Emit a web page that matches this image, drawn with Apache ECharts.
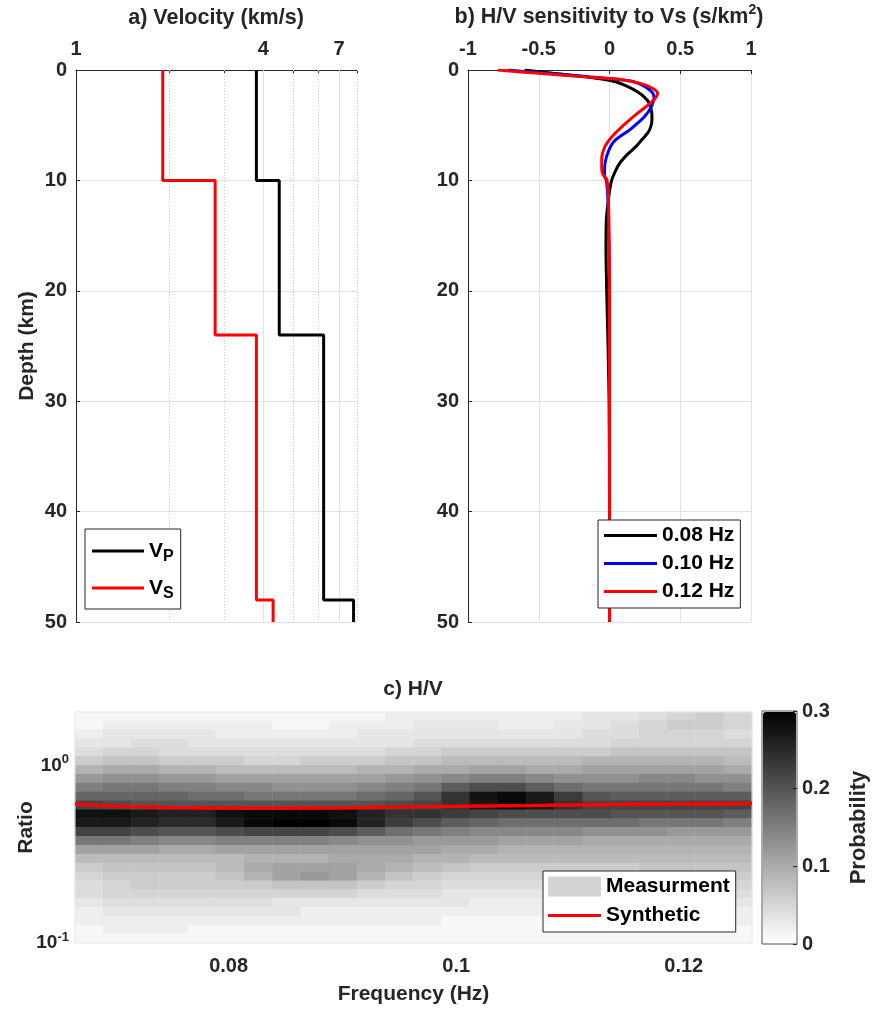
<!DOCTYPE html>
<html><head><meta charset="utf-8">
<script src="https://cdn.jsdelivr.net/npm/echarts@6/dist/echarts.min.js"></script>
<style>html,body{margin:0;padding:0;background:#fff}#c{width:873px;height:1010px}</style>
</head><body><div id="c"></div>
<script>
// ---------- a) velocity model ----------
const layerTop    = [0, 10, 24, 48];
const layerBottom = [10, 24, 48, 50];
const vp = [3.8, 4.5, 6.25, 7.8];
const vs = [1.9, 2.8, 3.8, 4.3];
const velTickLabels = [1, 4, 7];
const velTicks = [2, 3, 4, 5, 6, 7, 8];
const velMajorGrid = [4, 7];
const velMinorGrid = [2, 3, 5, 6, 8];

// ---------- b) H/V sensitivity ----------
const sensDepth008 = [0, 0.3, 0.6, 1.0, 1.5, 2.0, 2.5, 3.0, 3.8, 4.5, 5.2, 5.7, 6.3, 6.9, 7.6, 8.4, 9.2, 10, 11, 12, 13.5, 16, 20, 24, 30, 40, 50];
const sens008      = [-0.6, -0.4, -0.18, 0.02, 0.13, 0.2, 0.25, 0.28, 0.298, 0.3, 0.29, 0.27, 0.23, 0.19, 0.13, 0.075, 0.04, 0.015, 0.0, -0.01, -0.022, -0.025, -0.02, -0.012, -0.003, 0, 0];
const sensDepth010 = [0, 0.3, 0.6, 1.0, 1.5, 2.0, 2.5, 3.2, 4.2, 5.4, 6.5, 7.8, 9.0, 9.6, 10, 12, 15, 20, 30, 40, 50];
const sens010      = [-0.72, -0.45, -0.15, 0.15, 0.25, 0.30, 0.315, 0.30, 0.25, 0.145, 0.03, -0.02, -0.035, -0.035, -0.022, -0.01, -0.005, 0, 0, 0, 0];
const sensDepth012 = [0, 0.3, 0.6, 0.9, 1.3, 1.7, 2.1, 2.6, 3.2, 4.0, 5.0, 6.0, 7.0, 8.0, 9.0, 9.5, 9.9, 11, 13, 20, 30, 40, 50];
const sens012      = [-0.79, -0.5, -0.2, 0.1, 0.24, 0.31, 0.34, 0.32, 0.27, 0.19, 0.10, 0.02, -0.035, -0.055, -0.055, -0.045, -0.02, -0.01, -0.005, 0, 0, 0, 0];

// ---------- c) H/V probability ----------
const hvFreq = [0.0677, 0.0702, 0.0727, 0.0752, 0.0777, 0.0801, 0.0826, 0.0851, 0.0876, 0.0901, 0.0925, 0.0950,
                0.0975, 0.1000, 0.1025, 0.1049, 0.1074, 0.1099, 0.1124, 0.1149, 0.1173, 0.1198, 0.1223, 0.1248];
// rows from top (high ratio) to bottom (low ratio)
const hvRatio = [1.884, 1.679, 1.496, 1.334, 1.189, 1.059, 0.944, 0.841, 0.750, 0.668, 0.596, 0.531, 0.473,
                 0.422, 0.376, 0.335, 0.299, 0.266, 0.237, 0.211, 0.188, 0.168, 0.150, 0.133, 0.119, 0.106];
// probability in percent, one row per ratio, one column per frequency
const hvProbPct = [
  [1,1,1,1,1,1,1,1,1,1,1,2,2,2,2,2,2,2,3,3,4,5,6,5],
  [1,2,2,2,2,2,2,1,1,2,2,2,3,3,3,2,2,3,3,4,5,6,6,5],
  [2,3,3,3,3,2,2,2,2,2,3,3,3,3,3,3,3,3,4,4,5,5,5,4],
  [3,3,4,4,3,3,3,3,3,3,3,3,4,4,4,4,4,4,4,5,5,5,5,5],
  [4,5,5,4,4,4,4,4,4,4,4,5,5,6,6,6,6,6,6,7,7,7,7,7],
  [6,7,7,6,6,6,5,5,6,6,6,7,7,8,8,8,8,8,9,9,9,9,9,8],
  [9,10,10,9,9,8,8,8,8,8,9,9,10,10,11,11,10,10,11,11,11,11,11,10],
  [12,13,13,12,12,11,11,11,11,11,11,12,13,14,15,15,14,13,13,13,14,14,13,13],
  [15,16,16,15,15,14,14,13,13,13,14,15,16,19,21,21,19,17,16,16,16,16,16,15],
  [18,18,18,18,17,17,16,16,16,16,17,18,20,24,28,29,27,23,20,19,19,19,19,19],
  [22,21,20,20,20,20,20,20,20,20,20,21,22,24,27,29,27,24,22,22,22,22,22,22],
  [28,28,27,26,26,28,29,29,29,28,26,24,24,23,22,21,21,21,21,20,20,20,20,19],
  [27,27,26,25,25,27,29,30,30,29,26,23,21,19,18,17,17,17,17,17,16,16,16,15],
  [22,22,21,20,20,21,22,22,22,21,19,17,16,15,14,14,14,14,13,13,13,12,12,12],
  [16,16,15,14,14,15,15,15,15,14,13,13,12,12,12,11,11,11,10,10,10,10,10,10],
  [11,11,11,10,10,11,11,11,11,11,11,11,11,10,10,9,9,9,9,9,9,9,9,9],
  [8,8,8,8,8,8,9,9,9,10,10,10,9,9,8,8,8,8,8,8,8,8,8,8],
  [6,7,7,7,7,8,10,11,11,11,10,9,8,7,6,6,6,6,6,6,7,7,7,7],
  [5,6,6,6,6,7,9,11,12,11,9,7,6,5,5,5,5,5,5,5,5,5,6,6],
  [4,5,6,6,6,6,6,7,7,7,6,5,5,4,4,4,4,4,4,4,4,4,5,5],
  [4,5,5,5,5,5,5,5,5,5,4,4,4,3,3,3,3,3,3,3,3,4,4,4],
  [3,4,4,4,4,4,4,3,3,3,3,3,3,3,2,2,2,2,2,3,3,3,3,3],
  [2,3,3,3,3,3,3,3,2,2,2,2,2,2,2,2,2,2,2,2,2,2,2,2],
  [2,2,2,2,2,2,2,2,2,2,2,2,2,1,1,1,1,1,1,1,1,1,2,2],
  [1,2,2,2,1,1,1,1,1,1,1,1,1,1,1,1,1,1,1,1,1,1,1,1],
  [1,1,1,1,1,1,1,1,1,1,1,1,1,1,1,1,1,1,1,1,1,1,1,1]
];
const synFreq  = [0.0665, 0.07, 0.075, 0.08, 0.085, 0.09, 0.095, 0.1, 0.105, 0.11, 0.115, 0.12, 0.126];
const synRatio = [0.605, 0.588, 0.578, 0.573, 0.574, 0.577, 0.582, 0.588, 0.593, 0.597, 0.601, 0.605, 0.61];
const freqTickLabels = [0.08, 0.1, 0.12];
const ratioTickLabels = [0.1, 1];

// ---------- build ----------
const FONT = "'Liberation Sans', Arial, Helvetica, sans-serif";
const AX = '#262626';
const GRIDC = '#e2e2e2';

function stepLine(v) {
  const pts = [];
  for (let i = 0; i < v.length; i++) { pts.push([v[i], layerTop[i]]); pts.push([v[i], layerBottom[i]]); }
  return pts;
}
function zipXY(x, d) { return x.map((v, i) => [v, d[i]]); }
const heatData = [];
hvProbPct.forEach((row, i) => row.forEach((p, j) => heatData.push([j, i, p / 100])));

const tickLabel = {fontSize: 20, fontWeight: 'bold', color: AX, fontFamily: FONT};
const nameStyle = {fontSize: 21, fontWeight: 'bold', color: AX, fontFamily: FONT};
const axLine = {show: true, onZero: false, lineStyle: {color: AX, width: 1}};
const noLine = {show: false, onZero: false};
const inTick = {show: true, inside: true, length: 4, lineStyle: {color: AX}};
const lineBase = {type: 'line', symbol: 'none', smooth: false, emphasis: {disabled: true}, z: 3};

const chart = echarts.init(document.getElementById('c'));
chart.setOption({
  animation: false,
  textStyle: {fontFamily: FONT},
  grid: [
    {left: 76, top: 70, width: 281, height: 552},
    {left: 468, top: 70, width: 283, height: 552},
    {left: 75, top: 712, width: 677, height: 231},
    {left: 75, top: 712, width: 677, height: 231, show: true, z: 3, borderColor: '#e6e6e6', backgroundColor: 'transparent'},
    {left: 762, top: 711, width: 35, height: 233, show: true, borderColor: '#555', borderWidth: 1, backgroundColor: 'transparent'}
  ],
  xAxis: [
    {gridIndex: 0, type: 'log', logBase: 10, min: 1, max: 8, position: 'top',
     axisLine: axLine, axisTick: Object.assign({customValues: velTicks}, inTick),
     axisLabel: Object.assign({customValues: velTickLabels, margin: 11}, tickLabel),
     splitLine: {show: false}, minorTick: {show: false}},
    {gridIndex: 1, type: 'value', min: -1, max: 1, interval: 0.5, position: 'top',
     axisLine: axLine, axisTick: inTick, axisLabel: Object.assign({margin: 11}, tickLabel),
     splitLine: {show: true, lineStyle: {color: GRIDC}}},
    {gridIndex: 2, type: 'category', data: hvFreq, show: false},
    {gridIndex: 3, type: 'value', min: 0.0665, max: 0.126,
     axisLine: noLine, axisTick: {show: false}, splitLine: {show: false},
     axisLabel: Object.assign({customValues: freqTickLabels, margin: 13}, tickLabel),
     name: 'Frequency (Hz)', nameLocation: 'middle', nameGap: 41, nameMoveOverlap: false, nameTextStyle: nameStyle},
    {gridIndex: 4, type: 'value', show: false, min: 0, max: 1, axisLine: noLine}
  ],
  yAxis: [
    {gridIndex: 0, type: 'value', inverse: true, min: 0, max: 50, interval: 10,
     axisLine: axLine, axisTick: inTick, axisLabel: Object.assign({margin: 9}, tickLabel),
     splitLine: {show: true, lineStyle: {color: GRIDC}},
     name: 'Depth (km)', nameLocation: 'middle', nameGap: 38, nameRotate: 90, nameMoveOverlap: false, nameTextStyle: nameStyle},
    {gridIndex: 1, type: 'value', inverse: true, min: 0, max: 50, interval: 10,
     axisLine: axLine, axisTick: inTick, axisLabel: Object.assign({margin: 9}, tickLabel),
     splitLine: {show: true, lineStyle: {color: GRIDC}}},
    {gridIndex: 2, type: 'category', data: hvRatio, inverse: true, show: false},
    {gridIndex: 3, type: 'log', logBase: 10, min: 0.1, max: 1.995,
     axisLine: noLine, axisTick: {show: false}, splitLine: {show: false}, minorTick: {show: false},
     axisLabel: {customValues: ratioTickLabels, margin: 6, color: AX,
       formatter: v => Math.abs(v - 1) < 1e-6 ? '{b|10}{s|0}' : '{b|10}{s|-1}',
       rich: {b: {fontSize: 19, fontWeight: 'bold', color: AX, lineHeight: 19},
              s: {fontSize: 13, fontWeight: 'bold', color: AX, lineHeight: 13, padding: [0, 0, 12, 0]}}},
     name: 'Ratio', nameLocation: 'middle', nameGap: 38, nameRotate: 90, nameMoveOverlap: false, nameTextStyle: nameStyle},
    {gridIndex: 4, type: 'value', min: 0, max: 0.3, interval: 0.1, position: 'right', zlevel: 1, z: 10,
     axisLine: noLine, axisTick: {show: true, inside: true, length: 4, lineStyle: {color: AX}},
     splitLine: {show: false},
     axisLabel: Object.assign({margin: 5}, tickLabel),
     name: 'Probability', nameLocation: 'middle', nameGap: 51, nameRotate: 90, nameMoveOverlap: false,
     nameTextStyle: Object.assign({}, nameStyle, {fontSize: 22})}
  ],
  visualMap: {
    type: 'continuous', min: 0, max: 0.3, seriesIndex: 5, dimension: 2, z: 2,
    inRange: {color: ['#ffffff', '#000000']},
    left: 763, top: 712, itemWidth: 33, itemHeight: 231, padding: 0,
    calculable: false, hoverLink: false, text: null, showLabel: false
  },
  legend: [
    {left: 85, top: 529, orient: 'vertical', selectedMode: false,
     padding: [8, 7, 7, 7], itemGap: 9, itemWidth: 52, itemHeight: 3,
     borderColor: AX, borderWidth: 1, backgroundColor: '#fff',
     data: [{name: 'VP', icon: 'rect'}, {name: 'VS', icon: 'rect'}],
     formatter: n => n === 'VP' ? '{v|V}{s|P}' : '{v|V}{s|S}',
     textStyle: {rich: {v: {fontSize: 21, fontWeight: 'bold', color: '#000', lineHeight: 20},
                        s: {fontSize: 16, fontWeight: 'bold', color: '#000', lineHeight: 15, padding: [12, 0, 0, 0]}}}},
    {left: 598, top: 520, orient: 'vertical', selectedMode: false,
     padding: [5, 6, 6, 6], itemGap: 7, itemWidth: 53, itemHeight: 3,
     borderColor: AX, borderWidth: 1, backgroundColor: '#fff',
     data: [{name: '0.08 Hz', icon: 'rect'}, {name: '0.10 Hz', icon: 'rect'}, {name: '0.12 Hz', icon: 'rect'}],
     textStyle: {fontSize: 21, fontWeight: 'bold', color: '#000', lineHeight: 21}},
    {left: 543, top: 871, orient: 'vertical', selectedMode: false,
     padding: [5, 6, 6, 5], itemGap: 8, itemWidth: 53, itemHeight: 20,
     borderColor: AX, borderWidth: 1, backgroundColor: '#fff',
     itemStyle: {borderWidth: 0},
     data: [{name: 'Measurment', icon: 'rect', itemStyle: {color: '#d4d4d4'}},
            {name: 'Synthetic', icon: 'path://M0,0L0.01,0L0.01,0.01Z M0,8.5L53,8.5L53,11.5L0,11.5Z M53,20L52.99,20L52.99,19.99Z'}],
     textStyle: {fontSize: 21, fontWeight: 'bold', color: '#000', lineHeight: 21}}
  ],
  graphic: [
    {type: 'text', x: 216, y: 18, style: {text: 'a) Velocity (km/s)', fontSize: 21.5, fontWeight: 'bold', fontFamily: FONT, fill: AX, align: 'center', verticalAlign: 'middle'}},
    {type: 'text', x: 609, y: 17, style: {text: '{t|b) H/V sensitivity to Vs (s/km}{s|2}{t|)}', fontFamily: FONT, fill: AX, align: 'center', verticalAlign: 'middle',
      rich: {t: {fontSize: 21.5, fontWeight: 'bold', fill: AX, lineHeight: 21}, s: {fontSize: 14, fontWeight: 'bold', fill: AX, lineHeight: 14, padding: [0, 0, 13, 0]}}}},
    {type: 'text', x: 413, y: 689, style: {text: 'c) H/V', fontSize: 21, fontWeight: 'bold', fontFamily: FONT, fill: AX, align: 'center', verticalAlign: 'middle'}}
  ],
  series: [
    Object.assign({}, lineBase, {name: 'VP', xAxisIndex: 0, yAxisIndex: 0, data: stepLine(vp),
      lineStyle: {color: '#000', width: 3}, itemStyle: {color: '#000'},
      markLine: {silent: true, symbol: ['none', 'none'], label: {show: false}, z: 1, animation: false,
        data: velMajorGrid.map(v => ({xAxis: v, lineStyle: {type: 'solid', color: GRIDC, width: 1}}))
          .concat(velMinorGrid.map(v => ({xAxis: v, lineStyle: {type: [1, 2], color: '#c8c8c8', width: 1}})))}}),
    Object.assign({}, lineBase, {name: 'VS', xAxisIndex: 0, yAxisIndex: 0, data: stepLine(vs),
      lineStyle: {color: '#ff0000', width: 3}, itemStyle: {color: '#ff0000'}}),
    Object.assign({}, lineBase, {name: '0.08 Hz', xAxisIndex: 1, yAxisIndex: 1, data: zipXY(sens008, sensDepth008), smooth: 0.3,
      lineStyle: {color: '#000', width: 3}, itemStyle: {color: '#000'}}),
    Object.assign({}, lineBase, {name: '0.10 Hz', xAxisIndex: 1, yAxisIndex: 1, data: zipXY(sens010, sensDepth010), smooth: 0.3,
      lineStyle: {color: '#0000ff', width: 3}, itemStyle: {color: '#0000ff'}}),
    Object.assign({}, lineBase, {name: '0.12 Hz', xAxisIndex: 1, yAxisIndex: 1, data: zipXY(sens012, sensDepth012), smooth: 0.3,
      lineStyle: {color: '#ff0000', width: 3}, itemStyle: {color: '#ff0000'}}),
    {name: 'Measurment', type: 'heatmap', xAxisIndex: 2, yAxisIndex: 2, data: heatData,
     emphasis: {disabled: true}, progressive: 0, itemStyle: {color: '#d4d4d4'}},
    Object.assign({}, lineBase, {name: 'Synthetic', xAxisIndex: 3, yAxisIndex: 3, data: zipXY(synFreq, synRatio),
      lineStyle: {color: '#ff0000', width: 3.5}, itemStyle: {color: '#ff0000'}, z: 5})
  ]
});
</script>
</body></html>
